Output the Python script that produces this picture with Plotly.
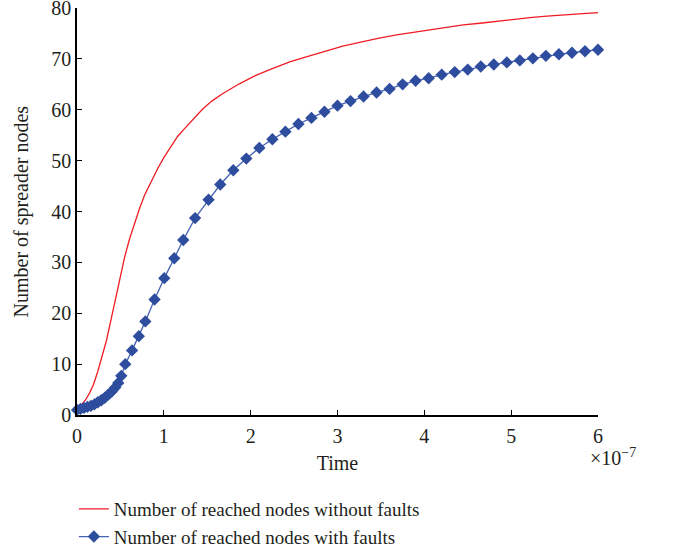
import plotly.graph_objects as go

# Red series: reached nodes without faults (time in 1e-7 units)
red_x = [0, 0.048, 0.10, 0.144, 0.19, 0.24, 0.29, 0.337, 0.385, 0.432, 0.49, 0.548, 0.605,
         0.663, 0.72, 0.778, 0.855, 0.931, 1.0, 1.086, 1.16, 1.239, 1.346, 1.45, 1.56, 1.68,
         1.87, 2.066, 2.25, 2.45, 2.64, 2.833, 3.06, 3.294, 3.48, 3.68, 3.87, 4.063, 4.25,
         4.447, 4.64, 4.832, 5.02, 5.216, 5.41, 5.6, 5.8, 6.0]
red_y = [1.0, 2.0, 3.0, 4.3, 6.0, 8.6, 11.5, 14.5, 18.2, 22.0, 26.8, 31.0, 34.6,
         37.7, 40.6, 43.2, 46.0, 48.5, 50.6, 53.0, 54.8, 56.3, 58.3, 60.2, 61.8, 63.2,
         65.1, 66.8, 68.1, 69.4, 70.4, 71.4, 72.5, 73.4, 74.1, 74.7, 75.2, 75.7, 76.2,
         76.7, 77.0, 77.4, 77.8, 78.1, 78.4, 78.6, 78.9, 79.1]

# Blue series: reached nodes with faults
blue_x = [0, 0.04, 0.08, 0.12, 0.16, 0.2, 0.24, 0.28, 0.32, 0.36, 0.40, 0.44, 0.475, 0.51,
          0.556, 0.634, 0.712, 0.787, 0.893, 1.005, 1.12, 1.224, 1.36, 1.515,
          1.65, 1.80, 1.95, 2.10, 2.25, 2.40, 2.55, 2.70, 2.85, 3.00, 3.15, 3.30, 3.45,
          3.60, 3.75, 3.90, 4.05, 4.20, 4.35, 4.50, 4.65, 4.80, 4.95, 5.10, 5.25, 5.40,
          5.55, 5.70, 5.85, 6.00]
blue_y = [1.0, 1.2, 1.4, 1.6, 1.8, 2.1, 2.5, 2.9, 3.4, 4.0, 4.6, 5.4, 6.3, 7.7,
          10.0, 12.7, 15.5, 18.4, 22.7, 26.9, 30.8, 34.4, 38.7, 42.3,
          45.3, 48.1, 50.4, 52.5, 54.2, 55.7, 57.2, 58.4, 59.6, 60.8, 61.7, 62.6, 63.4,
          64.1, 65.0, 65.7, 66.2, 66.9, 67.4, 67.9, 68.5, 68.9, 69.3, 69.7, 70.1, 70.6,
          70.9, 71.2, 71.5, 71.8]

x_ticks = [0, 1, 2, 3, 4, 5, 6]
y_ticks = [0, 10, 20, 30, 40, 50, 60, 70, 80]

FONT = "Liberation Serif"
TXT = "#231f20"

fig = go.Figure()
fig.add_trace(go.Scatter(
    x=red_x, y=red_y, mode="lines",
    name="Number of reached nodes without faults",
    line=dict(color="#f01c24", width=1.3),
    cliponaxis=False,
))
fig.add_trace(go.Scatter(
    x=blue_x, y=blue_y, mode="lines+markers",
    name="Number of reached nodes with faults",
    line=dict(color="#4563b3", width=1.3),
    marker=dict(symbol="diamond", size=9.5, color="#2f4d9e", line=dict(width=0)),
    cliponaxis=False,
))

fig.update_layout(
    width=675, height=552,
    margin=dict(l=77, r=77, t=8, b=137),
    paper_bgcolor="white", plot_bgcolor="white",
    font=dict(family=FONT, size=20, color=TXT),
    showlegend=True,
    legend=dict(
        x=-0.006, xanchor="left",
        yref="container", y=1 - 490 / 552, yanchor="top",
        bgcolor="rgba(0,0,0,0)", font=dict(family=FONT, size=19, color=TXT),
        tracegroupgap=0, itemwidth=30,
    ),
    xaxis=dict(
        range=[0, 6], tickvals=x_ticks, ticktext=[str(v) for v in x_ticks],
        showgrid=False, zeroline=False, showline=True, linecolor="black", linewidth=1.5,
        ticks="inside", ticklen=5, tickcolor="black", tickwidth=1.3,
        automargin=False, ticklabeloverflow="allow", ticklabelstandoff=2,
        tickfont=dict(family=FONT, size=20, color=TXT),
        title=dict(text="Time", font=dict(family=FONT, size=20, color=TXT), standoff=10),
    ),
    yaxis=dict(
        range=[0, 80], tickvals=y_ticks, ticktext=[str(v) for v in y_ticks],
        showgrid=False, zeroline=False, showline=True, linecolor="black", linewidth=1.5,
        ticks="inside", ticklen=5, tickcolor="black", tickwidth=1.3,
        automargin=False, ticklabeloverflow="allow", ticklabelstandoff=0,
        tickfont=dict(family=FONT, size=20, color=TXT),
    ),
)

fig.add_annotation(
    x=-0.1056, y=0.5, xref="paper", yref="paper",
    text="Number of spreader nodes", showarrow=False, textangle=-90,
    xanchor="center", yanchor="middle",
    font=dict(family=FONT, size=20, color=TXT),
)

fig.add_annotation(
    x=6, y=0, xref="x", yref="paper",
    text="×10<sup>−7</sup>", showarrow=False,
    xanchor="left", yanchor="top", xshift=-10, yshift=-28,
    font=dict(family=FONT, size=20, color=TXT),
)

fig.write_html("out.html", config={"displayModeBar": False},
               post_script="document.body.style.margin='0px';")
